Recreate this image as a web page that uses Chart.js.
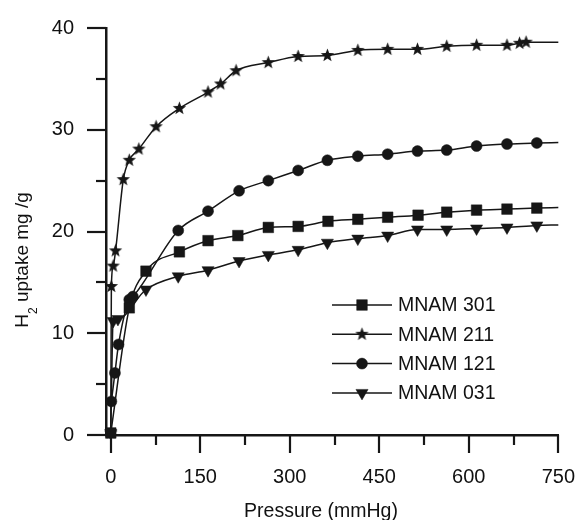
<!DOCTYPE html>
<html>
<head>
<meta charset="utf-8">
<script src="https://cdn.jsdelivr.net/npm/chart.js@4.4.1/dist/chart.umd.min.js"></script>
<style>
  html, body { margin: 0; background: #fff; }
</style>
</head>
<body>
<canvas id="c" width="587" height="520"></canvas>
<script>
// =========================
// DATA
// =========================
const labels = ["MNAM 301", "MNAM 211", "MNAM 121", "MNAM 031"];

const p301 = [0, 31, 59, 115, 163, 213, 264, 314, 364, 414, 464, 515, 563, 613, 664, 714, 750];
const u301 = [0.2, 12.5, 16.1, 18.0, 19.1, 19.6, 20.4, 20.5, 21.0, 21.2, 21.4, 21.6, 21.9, 22.1, 22.2, 22.3, 22.35];

const p211 = [0, 1, 4, 8, 21, 31, 47, 76, 115, 163, 184, 210, 264, 314, 363, 414, 464, 514, 563, 613, 664, 685, 696, 750];
const u211 = [0.2, 14.6, 16.6, 18.1, 25.1, 27.0, 28.1, 30.3, 32.1, 33.7, 34.5, 35.8, 36.6, 37.2, 37.3, 37.8, 37.9, 37.9, 38.2, 38.3, 38.3, 38.5, 38.6, 38.6];

const p121 = [1, 7, 13, 31, 37, 113, 163, 215, 264, 314, 363, 414, 464, 514, 563, 613, 664, 714, 750];
const u121 = [3.3, 6.1, 8.9, 13.3, 13.6, 20.1, 22.0, 24.0, 25.0, 26.0, 27.0, 27.4, 27.6, 27.9, 28.0, 28.4, 28.6, 28.7, 28.75];

const p031 = [0, 4, 12, 59, 113, 163, 215, 264, 314, 363, 414, 464, 514, 563, 613, 664, 714, 750];
const u031 = [0.2, 11.2, 11.4, 14.3, 15.6, 16.2, 17.1, 17.7, 18.2, 18.9, 19.3, 19.6, 20.2, 20.2, 20.3, 20.4, 20.6, 20.65];

const xMajor = [0, 150, 300, 450, 600, 750];
const xMinor = [75, 225, 375, 525, 675];
const yMajor = [0, 10, 20, 30, 40];
const yMinor = [5, 15, 25, 35];

const INK = "#161616";
const TEXT = "#111";
const FONT = "'Liberation Sans', Arial, sans-serif";

// =========================
// STAR MARKER
// =========================
function makeStar(size) {
  const cv = document.createElement("canvas");
  cv.width = size;
  cv.height = size;
  const g = cv.getContext("2d");
  const c = size / 2, ro = size / 2 - 0.5, ri = ro * 0.42;
  g.beginPath();
  for (let i = 0; i < 10; i++) {
    const r = i % 2 ? ri : ro;
    const a = -Math.PI / 2 + i * Math.PI / 5;
    g.lineTo(c + r * Math.cos(a), c + r * Math.sin(a));
  }
  g.closePath();
  g.fillStyle = INK;
  g.fill();
  return cv;
}
const star = makeStar(15);

function series(xs, ys) {
  return xs.map((x, i) => ({ x: x, y: ys[i] }));
}

const markers = [
  { pointStyle: "rect", radius: 7.5, rotation: 0 },
  { pointStyle: star, radius: 6, rotation: 0 },
  { pointStyle: "circle", radius: 5.5, rotation: 0 },
  { pointStyle: "triangle", radius: 7, rotation: 180 }
];

const sets = [series(p301, u301), series(p211, u211), series(p121, u121), series(p031, u031)];

const datasets = sets.map((d, i) => ({
  label: labels[i],
  data: d,
  borderColor: INK,
  borderWidth: 1.5,
  backgroundColor: INK,
  pointBackgroundColor: INK,
  pointBorderColor: INK,
  pointBorderWidth: 0.5,
  pointStyle: markers[i].pointStyle,
  pointRotation: markers[i].rotation,
  pointRadius: ctx => (ctx.dataIndex === d.length - 1 ? 0 : markers[i].radius),
  cubicInterpolationMode: "monotone",
  fill: false,
  clip: false
}));

// =========================
// TICKS, TITLES, LEGEND
// =========================
const decor = {
  id: "decor",
  afterDraw(chart) {
    const ctx = chart.ctx;
    const xs = chart.scales.x, ys = chart.scales.y;
    const a = chart.chartArea;
    ctx.save();
    ctx.strokeStyle = INK;
    ctx.lineWidth = 2.2;
    const xTick = (v, len) => {
      const px = Math.round(xs.getPixelForValue(v));
      ctx.beginPath();
      ctx.moveTo(px, a.bottom);
      ctx.lineTo(px, a.bottom + len);
      ctx.stroke();
    };
    const yTick = (v, len) => {
      const py = Math.round(ys.getPixelForValue(v));
      ctx.beginPath();
      ctx.moveTo(a.left - len, py);
      ctx.lineTo(a.left, py);
      ctx.stroke();
    };
    xMajor.forEach(v => xTick(v, 18));
    xMinor.forEach(v => xTick(v, 10));
    yMajor.forEach(v => yTick(v, 19));
    yMinor.forEach(v => yTick(v, 10));

    // x title
    ctx.fillStyle = TEXT;
    ctx.font = "19.5px " + FONT;
    ctx.textAlign = "center";
    ctx.textBaseline = "alphabetic";
    ctx.fillText("Pressure (mmHg)", 321, 517);

    // y title with subscript
    ctx.save();
    ctx.translate(21, 260);
    ctx.rotate(-Math.PI / 2);
    ctx.textAlign = "left";
    ctx.font = "19px " + FONT;
    const wH = ctx.measureText("H").width;
    const rest = " uptake mg /g";
    const wR = ctx.measureText(rest).width;
    ctx.font = "12px " + FONT;
    const w2 = ctx.measureText("2").width;
    const x0 = -(wH + w2 + wR) / 2;
    ctx.font = "19px " + FONT;
    ctx.fillText("H", x0, 7);
    ctx.fillText(rest, x0 + wH + w2, 7);
    ctx.font = "12px " + FONT;
    ctx.fillText("2", x0 + wH, 16);
    ctx.restore();

    // legend
    ctx.font = "19.5px " + FONT;
    ctx.textAlign = "left";
    ctx.textBaseline = "middle";
    labels.forEach((t, i) => {
      const y = 305 + i * 29.3;
      ctx.strokeStyle = INK;
      ctx.lineWidth = 1.5;
      ctx.beginPath();
      ctx.moveTo(332, y);
      ctx.lineTo(392, y);
      ctx.stroke();
      ctx.fillStyle = INK;
      ctx.lineWidth = 0.5;
      Chart.helpers.drawPoint(ctx, {
        pointStyle: markers[i].pointStyle,
        radius: markers[i].radius,
        rotation: markers[i].rotation,
        borderWidth: 0.5
      }, 362, y);
      ctx.fillStyle = TEXT;
      ctx.fillText(t, 398, y + 1);
    });
    ctx.restore();
  }
};

// =========================
// CHART
// =========================
new Chart(document.getElementById("c"), {
  type: "line",
  data: { datasets: datasets },
  options: {
    responsive: false,
    animation: false,
    devicePixelRatio: 1,
    layout: { padding: { top: 28, right: 20, left: 0, bottom: 0 } },
    plugins: { legend: { display: false }, tooltip: { enabled: false } },
    scales: {
      x: {
        type: "linear",
        min: -8,
        max: 750,
        afterBuildTicks: s => { s.ticks = xMajor.map(v => ({ value: v })); },
        afterFit: s => { s.height = 85; },
        grid: { drawOnChartArea: false, tickLength: 18, lineWidth: 2, color: "rgba(0,0,0,0)" },
        border: { color: INK, width: 2.5 },
        ticks: { padding: 12, color: TEXT, font: { family: FONT, size: 20 }, maxRotation: 0 }
      },
      y: {
        min: 0,
        max: 40,
        afterBuildTicks: s => { s.ticks = yMajor.map(v => ({ value: v })); },
        afterFit: s => { s.width = 106; },
        grid: { drawOnChartArea: false, tickLength: 18, lineWidth: 2, color: "rgba(0,0,0,0)" },
        border: { color: INK, width: 2.5 },
        ticks: { padding: 14, color: TEXT, font: { family: FONT, size: 20 } }
      }
    }
  },
  plugins: [decor]
});
</script>
</body>
</html>
